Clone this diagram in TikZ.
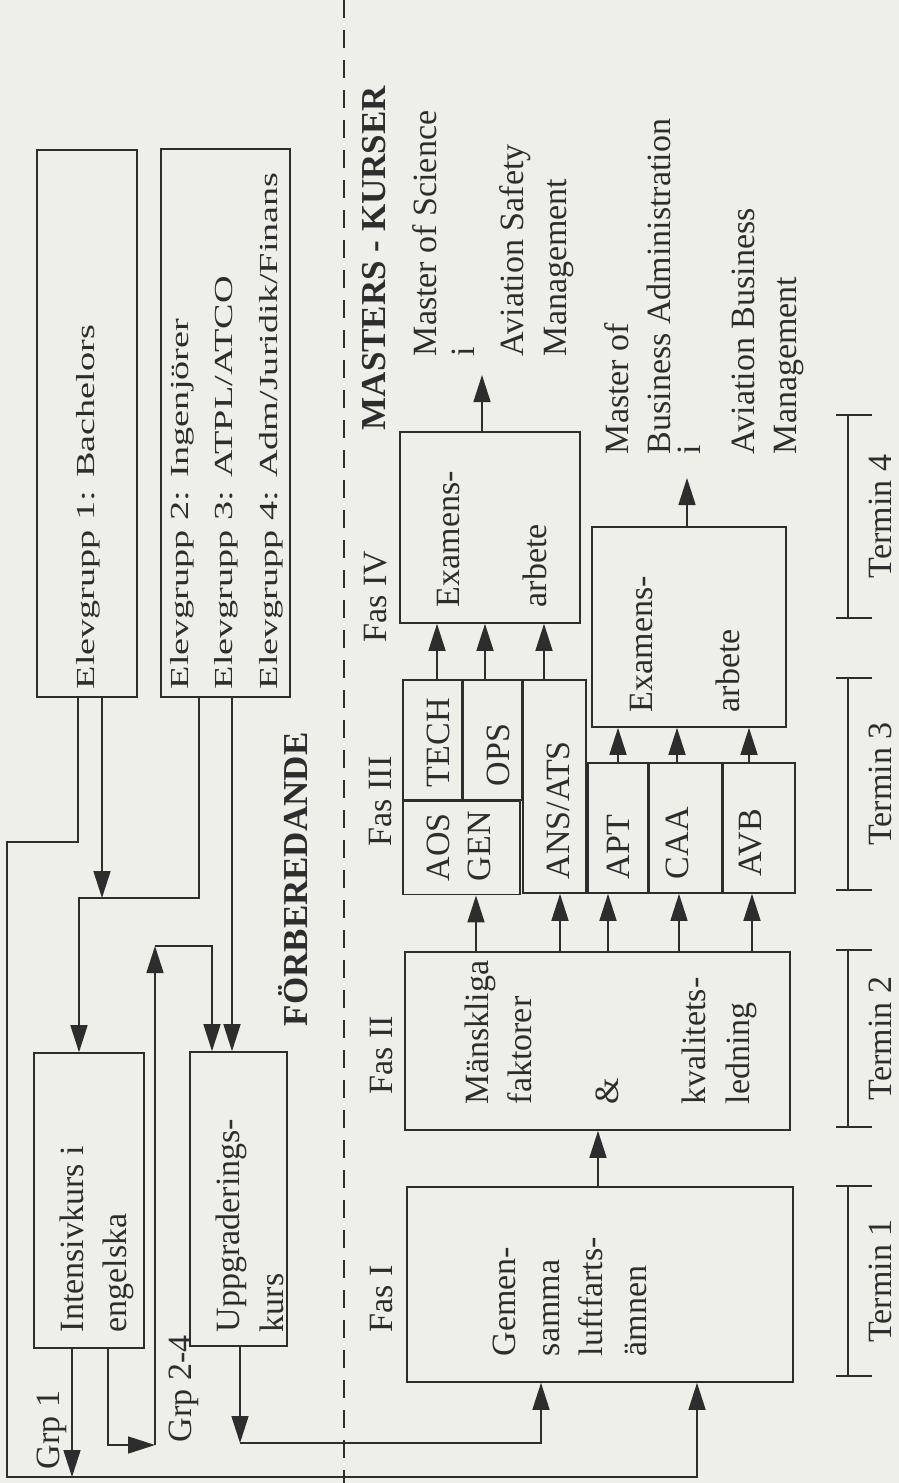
\documentclass[tikz,border=0pt]{standalone}
\usepackage{fontspec}
\setmainfont{Liberation Serif}
\newfontfamily\widefont{Liberation Serif}[FakeStretch=1.47]
\usetikzlibrary{arrows.meta,positioning}
\definecolor{paper}{RGB}{239,239,233}
\definecolor{ink}{RGB}{45,45,45}

\begin{document}
\begin{tikzpicture}[x=1pt,y=-1pt,color=ink,line width=1.6pt,
                  box/.style={rectangle,draw,inner sep=0pt},
                  lbl/.style={rotate=90,anchor=west,inner sep=0pt,align=left,font=\fontsize{34}{43.5}\selectfont},
                  widelbl/.style={lbl,font=\widefont\fontsize{26}{44.5}\selectfont},
                  headlbl/.style={lbl,font=\bfseries\fontsize{35}{42}\selectfont},
                  arr/.style={-{Triangle[length=27pt,width=17pt]}},
            ]
            \useasboundingbox (0,0) rectangle (899,1483);
            \fill[paper] (0,0) rectangle (899,1483);

            % divider
            \coordinate (divtop) at (344,0);
            \coordinate (divbot) at (344,1483);
            \draw[line width=1.4pt,dash pattern=on 18pt off 12pt] (divtop) -- (divbot);

            % preparatory part
            \node[box,minimum width=100pt,minimum height=547pt] (grp1) at (87,423.5) {};
            \node[widelbl] (t-grp1) at (88,690) {Elevgrupp 1: Bachelors};

            \node[box,minimum width=129pt,minimum height=548pt] (grp24) at (225.5,423) {};
            \node[widelbl] (t-grp24) at (226.5,690) {Elevgrupp 2: Ingenjörer\\Elevgrupp 3: ATPL/ATCO\\Elevgrupp 4: Adm/Juridik/Finans};

            \node[box,minimum width=110pt,minimum height=295pt] (intens) at (89,1200.5) {};
            \node[lbl] (t-intens) at (97,1333) {Intensivkurs i\\engelska};

            \node[box,minimum width=97pt,minimum height=294pt] (uppgr) at (238.5,1199) {};
            \node[lbl] (t-uppgr) at (250,1333) {Uppgraderings-\\kurs};

            \node[lbl] (g1) at (52,1470) {Grp 1};
            \node[lbl] (g24) at (184,1443) {Grp 2-4};
            \node[headlbl] (forb) at (293,1027) {FÖRBEREDANDE};

            % masters part
            \node[headlbl] (masters) at (374,431) {MASTERS - KURSER};

            \node[box,minimum width=386pt,minimum height=195pt] (fas1) at (600,1284.5) {};
            \node[lbl] (t-fas1) at (570,1357) {Gemen-\\samma\\luftfarts-\\ämnen};
            \node[lbl] (f1) at (382,1333) {Fas I};

            \node[box,minimum width=385pt,minimum height=178pt] (fas2) at (597.5,1041) {};
            \node[lbl] (t-fas2) at (610.5,1105) {Mänskliga\\faktorer\\[43.5pt]\&\\[43.5pt]kvalitets-\\ledning};
            \node[lbl] (f2) at (382,1095) {Fas II};

            \node[box,minimum width=59pt,minimum height=120pt] (tech) at (432.5,740) {};
            \node[box,minimum width=58pt,minimum height=120pt,right=0pt of tech] (ops) {};
            \node[box,minimum width=117pt,minimum height=93pt,anchor=north west] (aosgen) at (tech.south west) {};
            \node[box,minimum width=63pt,minimum height=213pt,anchor=north west] (ansats) at (ops.north east) {};
            \node[box,minimum width=60pt,minimum height=130pt,anchor=south west] (apt) at (ansats.south east) {};
            \node[box,minimum width=72pt,minimum height=130pt,anchor=south west] (caa) at (apt.south east) {};
            \node[box,minimum width=72pt,minimum height=130pt,anchor=south west] (avb) at (caa.south east) {};
            \node[lbl] (t-tech) at (438.5,788) {TECH};
            \node[lbl] (t-ops) at (498.5,787) {OPS};
            \node[lbl] (t-aosgen) at (459,882) {AOS\\[-3pt]GEN};
            \node[lbl] (t-ansats) at (558.5,880) {ANS/ATS};
            \node[lbl] (t-apt) at (618.5,880) {APT};
            \node[lbl] (t-caa) at (677.5,880) {CAA};
            \node[lbl] (t-avb) at (750.5,877) {AVB};
            \node[lbl] (f3) at (381,847) {Fas III};

            \node[box,minimum width=180pt,minimum height=191pt] (exam1) at (490,527.5) {};
            \node[lbl] (t-exam1) at (492,608) {Examens-\\[43.5pt]arbete};
            \node[box,minimum width=194pt,minimum height=200pt] (exam2) at (689,627) {};
            \node[lbl] (t-exam2) at (685,713) {Examens-\\[44pt]arbete};
            \node[lbl] (f4) at (376,643) {Fas IV};

            \node[lbl] (t-msc) at (493,357) {Master of Science\\[-5pt]i\\[5pt]Aviation Safety\\Management};
            \node[lbl,font=\fontsize{34}{42}\selectfont] (t-mba) at (704,455) {Master of\\Business Administration\\[-12pt]i\\[12pt]Aviation Business\\Management};
            \coordinate (msc-in) at (482,375);
            \coordinate (mba-in) at (687,478);

            % connectors, preparatory part
            \draw[arr] (grp1.south -| 78,0) -- (78,842) -- (7,842) -- (7,1477) -| (fas1.south -| 697,0);
            \draw[arr] (grp1.south -| 102,0) -- (102,898);
            \draw[arr] (grp24.south -| 199,0) |- (79,898) -- (intens.north -| 79,0);
            \draw[arr] (grp24.south -| 232,0) -- (uppgr.north -| 232,0);
            \draw[arr] (intens.south -| 72,0) -- (72,1477);
            \draw[arr] (intens.south -| 108,0) |- (155,1445);
            \draw[arr] (155,1445) -- (155,946);
            \draw[arr] (155,946) -| (uppgr.north -| 212,0);
            \draw[arr] (uppgr.south -| 240,0) -- (240,1443);
            \draw[arr] (240,1443) -| (fas1.south -| 541,0);

            % connectors, masters part
            \draw[arr] (fas1.north -| 598,0) -- (fas2.south -| 598,0);
            \foreach \x/\t in {476/aosgen,560/ansats,608/apt,679/caa,752/avb}
              \draw[arr] (fas2.north -| \x,0) -- (\t.south -| \x,0);
            \foreach \x/\s in {437/tech,485/ops,544/ansats}
              \draw[arr] (\s.north -| \x,0) -- (exam1.south -| \x,0);
            \foreach \x/\s in {618/apt,677/caa,749/avb}
              \draw[arr] (\s.north -| \x,0) -- (exam2.south -| \x,0);
            \draw[arr] (exam1.north -| msc-in) -- (msc-in);
            \draw[arr] (exam2.north -| mba-in) -- (mba-in);

            % terms
            \foreach \a/\b/\n in {415/618/4,678/890/3,950/1127/2,1186/1376/1}{
              \draw (848,\a) -- (848,\b);
              \draw (836,\a) -- (872,\a);
              \draw (836,\b) -- (872,\b);
              \node[lbl,anchor=center] (term\n) at (880,{(\a+\b)/2}) {Termin \n};
            }
      \end{tikzpicture}
\end{document}
